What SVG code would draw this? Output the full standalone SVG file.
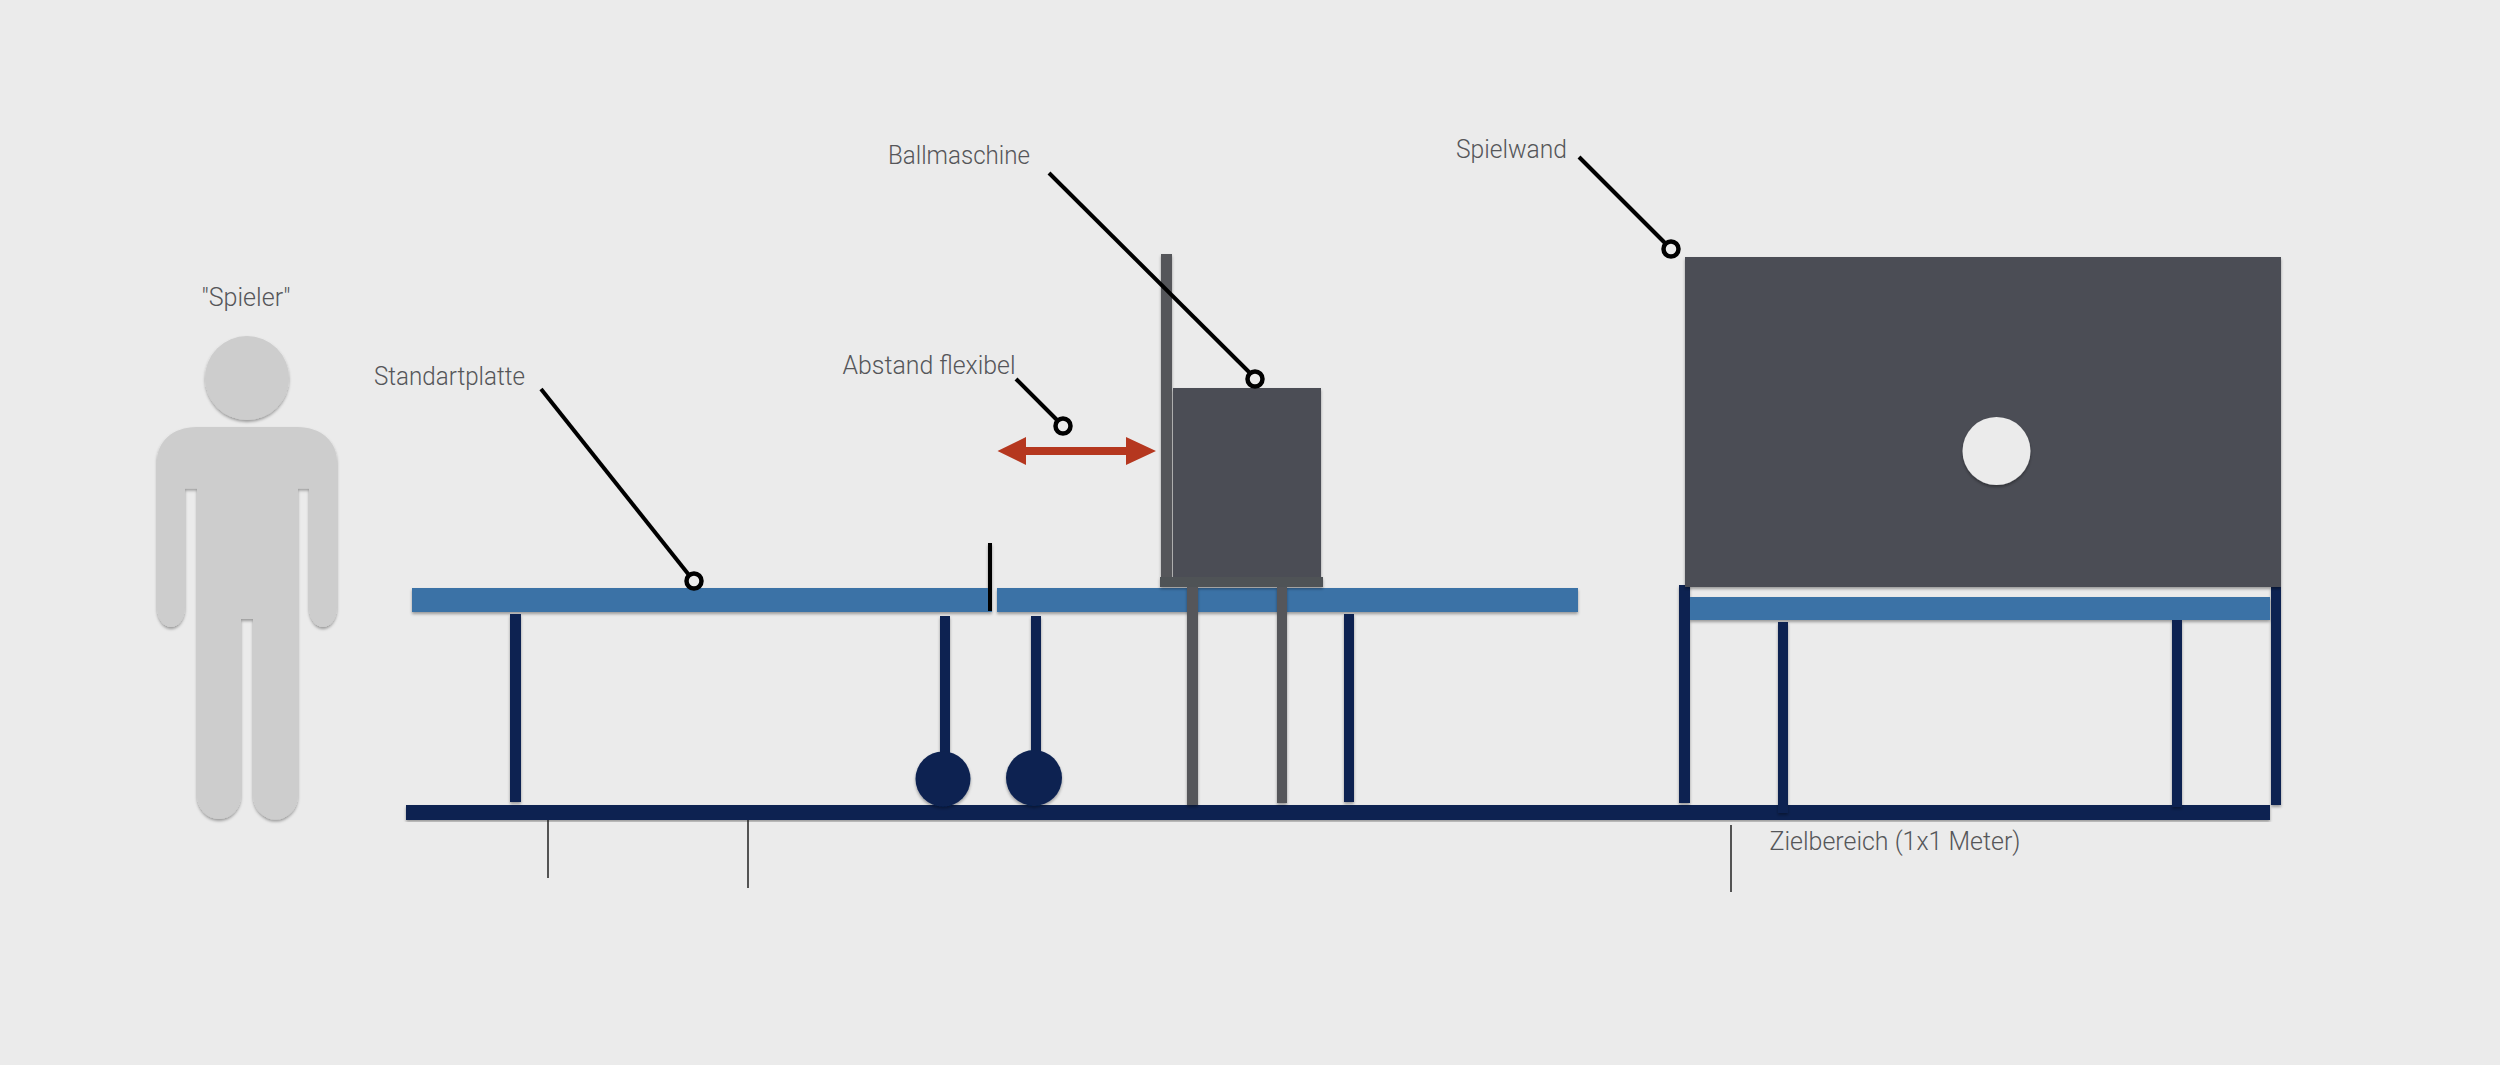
<svg xmlns="http://www.w3.org/2000/svg" width="2500" height="1065" viewBox="0 0 2500 1065">
<style>
.lbl{font-family:Roboto,"Liberation Sans",Arial,sans-serif;font-weight:300;font-size:25px;fill:#555659}
.top{fill:#3b72a6}
.navy{fill:#0a2251}
.grey{fill:#55565a}
.dark{fill:#4b4e55}
.base{fill:#505257}
.lead{stroke:#000;stroke-width:4;fill:none}
.dot{stroke:#000;stroke-width:4.5;fill:#ebebeb}
.tick{stroke:#222;stroke-width:1.5;fill:none}
</style>
<defs>
<filter id="sh" x="-10%" y="-10%" width="120%" height="120%"><feDropShadow dx="0" dy="2" stdDeviation="1.6" flood-color="#000" flood-opacity="0.35"/></filter>
</defs>
<rect width="2500" height="1065" fill="#ebebeb"/>
<g id="spieler">
<g filter="url(#sh)" fill="#cdcdcd">
<circle cx="247" cy="378" r="42"/>
<path d="M197 427H297C322 427 337 442 337 462V607A14 20 0 0 1 309 607V488.500H298V795A22 24 0 0 1 253 795V619H241V795A22 24 0 0 1 197 795V488.500H185V607A14 20 0 0 1 157 607V462C157 442 172 427 197 427Z"/>
</g>
<text class="lbl" x="246" y="306" text-anchor="middle" textLength="89" lengthAdjust="spacingAndGlyphs">"Spieler"</text>
</g>
<g id="boden"><rect class="navy" x="406" y="805" width="1864" height="15" filter="url(#sh)"/></g>
<g id="standartplatte" filter="url(#sh)">
<rect class="navy" x="510" y="614" width="11" height="188"/>
<rect class="navy" x="940" y="616" width="10" height="150"/>
<rect class="navy" x="1031" y="616" width="10" height="150"/>
<rect class="navy" x="1344" y="614" width="10" height="188"/>
<circle class="navy" cx="943" cy="779" r="27.500"/>
<circle class="navy" cx="1034" cy="778" r="28"/>
<rect class="top" x="412" y="588" width="580" height="24"/>
<rect class="top" x="997" y="588" width="581" height="24"/>
<rect x="988" y="543" width="4" height="68" fill="#000"/>
</g>
<g id="ballmaschine" filter="url(#sh)">
<rect class="grey" x="1187" y="585" width="11" height="220"/>
<rect class="grey" x="1277" y="585" width="10" height="218"/>
<rect class="grey" x="1161" y="254" width="11" height="330"/>
<rect class="dark" x="1173" y="388" width="148" height="192"/>
<rect class="base" x="1160" y="577" width="163" height="10"/>
</g>
<g id="spielwand">
<g filter="url(#sh)">
<rect class="navy" x="1679" y="585" width="11" height="218"/>
<rect class="navy" x="1778" y="622" width="10" height="191"/>
<rect class="navy" x="2172" y="619" width="10" height="188"/>
<rect class="navy" x="2271" y="587" width="10" height="218"/>
<rect class="top" x="1690" y="597" width="580" height="23"/>
</g>
<rect class="dark" x="1685" y="257" width="596" height="330" filter="url(#sh)"/>
<circle cx="1996.500" cy="451" r="34" fill="#ebebeb" filter="url(#sh)"/>
</g>
<g id="abstand">
<path d="M997.500 451L1026 437V447H1126V437L1156 451L1126 465V455H1026V465Z" fill="#b5371f"/>
</g>
<g id="connectors">
<path class="lead" d="M541 389L689 575"/><circle class="dot" cx="694" cy="581" r="7.500"/>
<path class="lead" d="M1049 173L1250 373"/><circle class="dot" cx="1255" cy="379" r="7.500"/>
<path class="lead" d="M1016 379L1058 421"/><circle class="dot" cx="1063" cy="426" r="7.500"/>
<path class="lead" d="M1579 157L1666 244"/><circle class="dot" cx="1671" cy="249" r="7.500"/>
<path class="tick" d="M548 820V878M748 820V888M1731 825V892"/>
</g>
<g id="labels">
<text class="lbl" x="374" y="385" textLength="151" lengthAdjust="spacingAndGlyphs">Standartplatte</text>
<text class="lbl" x="888" y="164" textLength="142" lengthAdjust="spacingAndGlyphs">Ballmaschine</text>
<text class="lbl" x="842.500" y="374" textLength="173" lengthAdjust="spacingAndGlyphs">Abstand flexibel</text>
<text class="lbl" x="1456" y="158" textLength="111" lengthAdjust="spacingAndGlyphs">Spielwand</text>
<text class="lbl" x="1769.500" y="850" textLength="251" lengthAdjust="spacingAndGlyphs">Zielbereich (1x1 Meter)</text>
</g>
</svg>
